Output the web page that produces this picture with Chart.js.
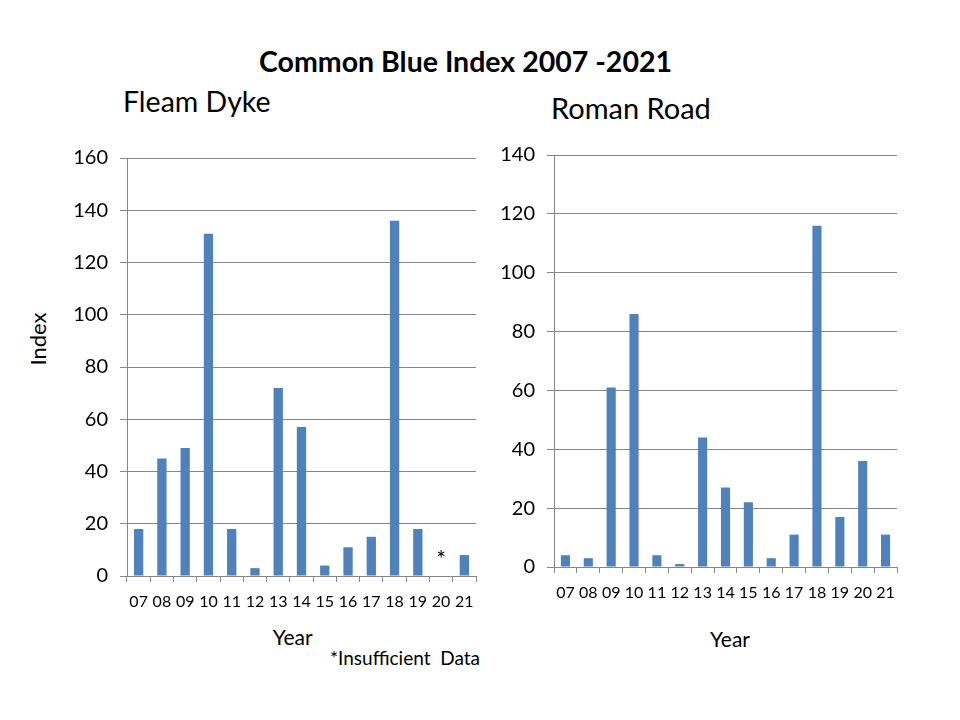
<!DOCTYPE html>
<html>
<head>
<meta charset="utf-8">
<script src="https://cdn.jsdelivr.net/npm/chart.js@4/dist/chart.umd.min.js"></script>
<style>
  html, body { margin: 0; padding: 0; background: #ffffff; }
  body { width: 960px; height: 720px; position: relative; overflow: hidden; font-family: Lato, "Open Sans", sans-serif; color: #000; }
  .txt { position: absolute; line-height: 1; white-space: pre; }
  #cv1 { position: absolute; left: 0px; top: 130px; }
  #cv2 { position: absolute; left: 490px; top: 130px; }
</style>
</head>
<body>
<div class="txt" style="left:0; width:931px; text-align:center; top:46.7px; font-size:28.5px; font-weight:bold;">Common Blue Index 2007 -2021</div>
<div class="txt" style="left:123px; top:87px; font-size:28.5px;">Fleam Dyke</div>
<div class="txt" style="left:551px; top:93.3px; font-size:29px;">Roman Road</div>
<div class="txt" style="left:38px; top:339px; font-size:22px; transform: translate(-50%,-50%) rotate(-90deg);">Index</div>
<div class="txt" style="left:292.7px; top:626.4px; font-size:21px; transform: translateX(-50%);">Year</div>
<div class="txt" style="left:730px; top:628px; font-size:21px; transform: translateX(-50%);">Year</div>
<div class="txt" style="left:330px; top:648px; font-size:19px;">*Insufficient  Data</div>
<canvas id="cv1" width="500" height="500"></canvas>
<canvas id="cv2" width="470" height="500"></canvas>
<script>
// ---- data ----
const years = ['07','08','09','10','11','12','13','14','15','16','17','18','19','20','21'];
const fleamDyke = [18, 45, 49, 131, 18, 3, 72, 57, 4, 11, 15, 136, 18, null, 8];
const romanRoad = [4, 3, 61, 86, 4, 1, 44, 27, 22, 3, 11, 116, 17, 36, 11];
const fleamNotes = ['', '', '', '', '', '', '', '', '', '', '', '', '', '*', ''];
const fleamNoteLevel = 3.5;
const fleamMax = 160;
const romanMax = 140;
const tickStep = 20;

// ---- style ----
const barColor = '#4F81BD';
const gridColor = '#868686';
const fontFamily = 'Lato, "Open Sans", sans-serif';

const notePlugin = {
  id: 'notes',
  afterDatasetsDraw(chart, args, opts) {
    if (!opts.notes) return;
    const ctx = chart.ctx;
    const xs = chart.scales.x, ys = chart.scales.y;
    ctx.save();
    ctx.fillStyle = '#000';
    ctx.font = '23px ' + fontFamily;
    ctx.textAlign = 'center';
    ctx.textBaseline = 'alphabetic';
    opts.notes.forEach((n, i) => {
      if (!n) return;
      ctx.fillText(n, xs.getPixelForValue(i), ys.getPixelForValue(opts.level));
    });
    ctx.restore();
  }
};

function makeChart(id, values, maxV, yWidth, xHeight, padding, notes) {
  return new Chart(document.getElementById(id), {
    type: 'bar',
    data: {
      labels: years,
      datasets: [{
        data: values,
        backgroundColor: barColor,
        borderWidth: 0,
        barPercentage: 0.4,
        categoryPercentage: 1.0
      }]
    },
    plugins: [notePlugin],
    options: {
      responsive: false,
      animation: false,
      devicePixelRatio: 1,
      layout: { padding: padding },
      plugins: {
        legend: { display: false },
        tooltip: { enabled: false },
        title: { display: false },
        notes: notes ? { notes: notes, level: fleamNoteLevel } : {}
      },
      scales: {
        x: {
          offset: true,
          grid: {
            offset: true,
            drawOnChartArea: false,
            drawTicks: true,
            tickLength: 6,
            color: gridColor,
            lineWidth: 1
          },
          border: { display: true, color: gridColor, width: 1 },
          ticks: {
            color: '#000',
            font: { family: fontFamily, size: 16 },
            padding: 10,
            maxRotation: 0,
            autoSkip: false
          },
          afterFit(axis) { axis.height = xHeight; }
        },
        y: {
          min: 0,
          max: maxV,
          grid: {
            color: gridColor,
            lineWidth: 1,
            drawTicks: true,
            tickLength: 7
          },
          border: { display: true, color: gridColor, width: 1 },
          ticks: {
            stepSize: tickStep,
            color: '#000',
            font: { family: fontFamily, size: 20 },
            padding: 12
          },
          afterFit(axis) { axis.width = yWidth; }
        }
      }
    }
  });
}

function draw() {
  makeChart('cv1', fleamDyke, fleamMax, 127, 54, { top: 28, right: 24, left: 0, bottom: 0 }, fleamNotes);
  makeChart('cv2', romanRoad, romanMax, 64, 63, { top: 25, right: 63, left: 0, bottom: 0 }, null);
}
if (document.fonts && document.fonts.load) {
  Promise.all([
    document.fonts.load('17px Lato'),
    document.fonts.load('bold 26px Lato')
  ]).then(draw, draw);
} else {
  draw();
}
</script>
</body>
</html>
